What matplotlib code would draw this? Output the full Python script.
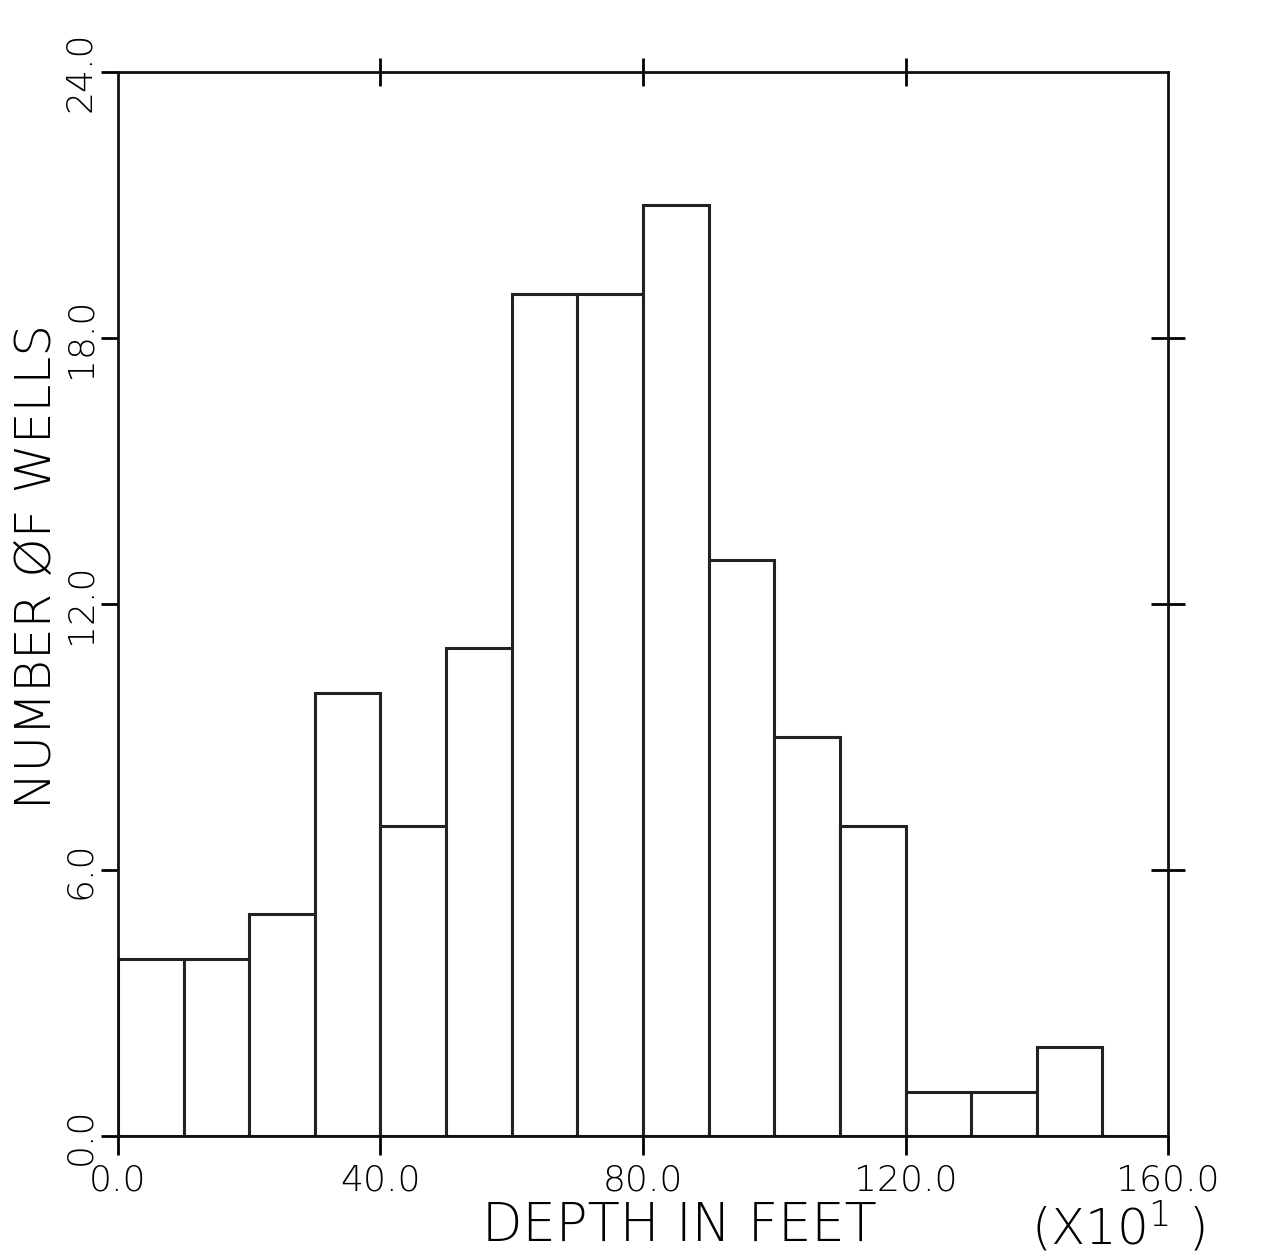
import numpy as np
import matplotlib
matplotlib.use("Agg")
import matplotlib.pyplot as plt

# histogram of well depths (units of 10 ft)
bin_edges = [0, 10, 20, 30, 40, 50, 60, 70, 80, 90, 100, 110, 120, 130, 140, 150, 160]
counts = [4, 4, 5, 10, 7, 11, 19, 19, 21, 13, 9, 7, 1, 1, 2, 0]

x_ticks = [0, 40, 80, 120, 160]
x_ticklabels = ["0.0", "40.0", "80.0", "120.0", "160.0"]
y_ticks = [0, 6, 12, 18, 24]
y_ticklabels = ["0.0", "6.0", "12.0", "18.0", "24.0"]

fig = plt.figure(figsize=(12.7, 12.54), dpi=100)
ax = fig.add_axes([0.0929, 0.0941, 0.8268, 0.8485])

lefts = np.array(bin_edges[:-1])
widths = np.diff(bin_edges)
ax.bar(lefts, counts, width=widths, align="edge", facecolor="white",
       edgecolor="#222222", linewidth=2.2)

ax.set_xlim(0, 160)
ax.set_ylim(0, 24)
for s in ax.spines.values():
    s.set_linewidth(2.0)
    s.set_color("#111111")

tick_font = dict(fontsize=26, family="DejaVu Sans", fontweight="light")
ax.set_xticks(x_ticks)
ax.set_xticklabels(x_ticklabels, **tick_font)
ax.set_yticks(y_ticks)
ax.set_yticklabels(y_ticklabels, rotation=90, va="center", **tick_font)
ax.tick_params(axis="x", direction="out", length=14, width=2, pad=6)
ax.tick_params(axis="y", direction="out", length=12, width=2, pad=3)

# ticks crossing the top and right spines
top = ax.secondary_xaxis("top")
top.set_xticks([40, 80, 120])
top.set_xticklabels([])
top.tick_params(direction="inout", length=20, width=2)
right = ax.secondary_yaxis("right")
right.set_yticks([6, 12, 18])
right.set_yticklabels([])
right.tick_params(direction="inout", length=24, width=2)

ax.text(0.535, -0.085, "DEPTH IN FEET", transform=ax.transAxes, ha="center",
        va="center", fontsize=38, fontweight="light")
ax.text(0.952, -0.085, "(X10$^{\\mathregular{1}}$ )", transform=ax.transAxes, ha="center",
        va="center", fontsize=36, fontweight="light")
ax.text(-0.077, 0.535, "NUMBER ØF WELLS", transform=ax.transAxes, ha="center",
        va="center", rotation=90, fontsize=36, fontweight="light")

fig.savefig("out.png", dpi=100, facecolor="white")
